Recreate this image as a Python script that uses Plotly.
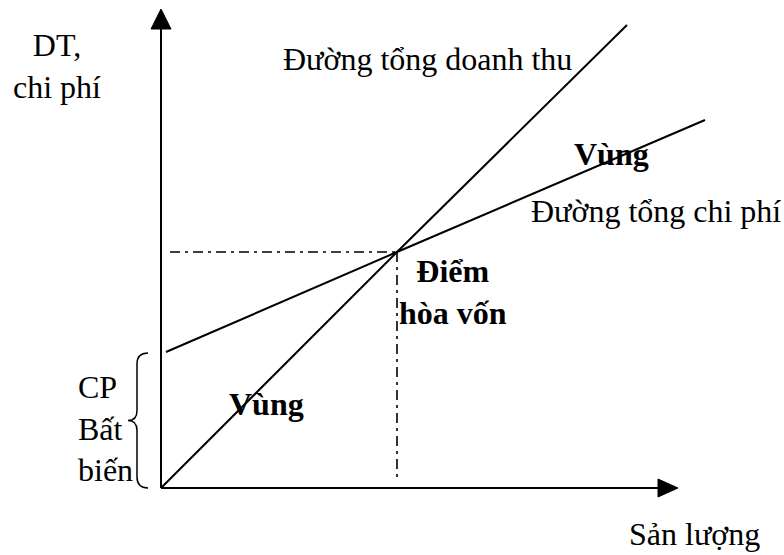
import plotly.graph_objects as go

# ---- data (chart units; origin at the axes' crossing) ----
quantity_rev = [0, 236, 466]
revenue = [0, 236, 463]
quantity_cost = [5, 236, 544]
total_cost = [136, 236, 368]
break_even_q = 236
break_even_v = 236
fixed_cost = 135
x_axis_end = 517
y_axis_end = 479

labels = {
    "y_title": "DT,<br>chi phí",
    "x_title": "Sản lượng",
    "rev_line": "Đường tổng doanh thu",
    "cost_line": "Đường tổng chi phí",
    "zone_top": "<b>Vùng</b>",
    "zone_bottom": "<b>Vùng</b>",
    "bep": "<b>Điểm<br>hòa vốn</b>",
    "fixed": "CP<br>Bất<br>biến",
}

FONT = "Liberation Serif"
FS = 32
BLACK = "#000000"

fig = go.Figure()

# revenue and cost lines
fig.add_trace(go.Scatter(x=quantity_rev, y=revenue, mode="lines",
                         line=dict(color=BLACK, width=2), hoverinfo="skip"))
fig.add_trace(go.Scatter(x=quantity_cost, y=total_cost, mode="lines",
                         line=dict(color=BLACK, width=2), hoverinfo="skip"))

dash = "10px,5px,3px,5px"
shapes = [
    # axes
    dict(type="line", x0=0, y0=0, x1=x_axis_end - 18, y1=0, line=dict(color=BLACK, width=2)),
    dict(type="line", x0=0, y0=0, x1=0, y1=y_axis_end - 18, line=dict(color=BLACK, width=2)),
    # arrowheads
    dict(type="path",
         path=f"M {x_axis_end},0 L {x_axis_end-20},9 L {x_axis_end-20},-9 Z",
         fillcolor=BLACK, line=dict(color=BLACK, width=1)),
    dict(type="path",
         path=f"M 0,{y_axis_end} L -10,{y_axis_end-20} L 10,{y_axis_end-20} Z",
         fillcolor=BLACK, line=dict(color=BLACK, width=1)),
    # break-even guides
    dict(type="line", x0=9, y0=break_even_v, x1=break_even_q, y1=break_even_v,
         line=dict(color=BLACK, width=1.6, dash=dash)),
    dict(type="line", x0=break_even_q, y0=break_even_v, x1=break_even_q, y1=7,
         line=dict(color=BLACK, width=1.6, dash=dash)),
    # fixed cost brace
    dict(type="path",
         path=(f"M -13,{fixed_cost} Q -24,{fixed_cost} -24,{fixed_cost-11} "
               f"L -24,{fixed_cost/2+10} Q -24,{fixed_cost/2} -33,{fixed_cost/2} "
               f"Q -24,{fixed_cost/2} -24,{fixed_cost/2-10} "
               f"L -24,11 Q -24,0 -13,0"),
         line=dict(color=BLACK, width=1.5)),
]

def ann(text, x, y, xanchor="center", align="center"):
    return dict(text=text, x=x, y=y, xref="x", yref="y", showarrow=False,
                xanchor=xanchor, yanchor="middle", align=align,
                font=dict(family=FONT, size=FS, color=BLACK))

annotations = [
    ann(labels["y_title"], -104, 422),
    ann(labels["rev_line"], 266.5, 429),
    ann(labels["zone_top"], 450, 334),
    ann(labels["cost_line"], 495, 277),
    ann(labels["bep"], 292, 196.5),
    ann(labels["zone_bottom"], 105, 84),
    ann(labels["fixed"], -85, 60, xanchor="left", align="left"),
    ann(labels["x_title"], 533, -46),
]

fig.update_layout(
    width=784, height=555,
    margin=dict(l=0, r=0, t=0, b=0),
    paper_bgcolor="white", plot_bgcolor="white",
    showlegend=False,
    xaxis=dict(range=[-161, 623], visible=False, fixedrange=True),
    yaxis=dict(range=[-67, 488], visible=False, fixedrange=True),
    shapes=shapes,
    annotations=annotations,
)

fig.write_html("out.html",
               config={"displayModeBar": False, "staticPlot": True},
               post_script="document.body.style.margin='0';document.body.style.overflow='hidden';")
